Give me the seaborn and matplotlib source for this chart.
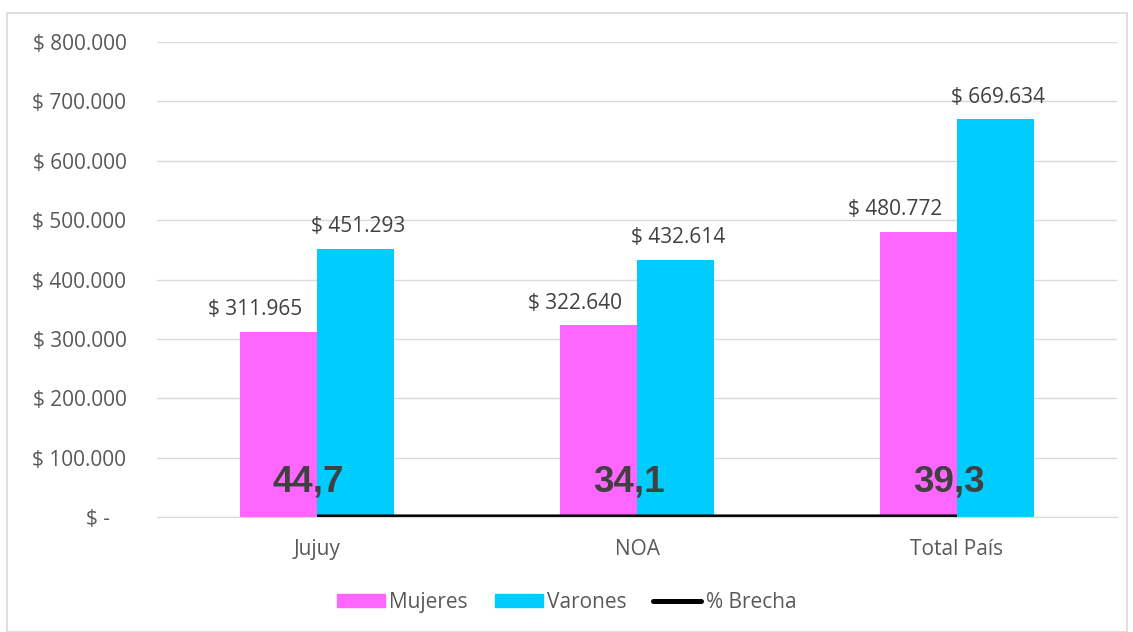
import numpy as np
import pandas as pd
import seaborn as sns
import matplotlib.pyplot as plt
from matplotlib.patches import Rectangle
from matplotlib.ticker import FuncFormatter

# datos
categorias = ["Jujuy", "NOA", "Total País"]
mujeres = [311965, 322640, 480772]
varones = [451293, 432614, 669634]
brecha = [44.7, 34.1, 39.3]
series = ["Mujeres", "Varones"]
colores = ["#FF66FF", "#00CCFF"]

df = pd.DataFrame({
    "region": categorias * 2,
    "serie": [series[0]] * 3 + [series[1]] * 3,
    "ingreso": mujeres + varones,
})

sns.set_style("white")
plt.rcParams["font.family"] = ["Open Sans", "DejaVu Sans"]
fs = 15

fig = plt.figure(figsize=(11.33, 6.32), dpi=100)
ax = fig.add_axes([0.1386, 0.182, 0.8473, 0.7515])

sns.barplot(data=df, x="region", y="ingreso", hue="serie", palette=colores,
            width=0.48, saturation=1, linewidth=0, ax=ax, legend=False)

pos = np.arange(len(categorias))
sns.lineplot(x=pos, y=brecha, color="black", linewidth=3.6, ax=ax,
             solid_capstyle="butt")

ax.set_xlim(-0.5, 2.5)
ax.set_ylim(0, 800000)
ax.set_yticks(np.arange(0, 800001, 100000))

def pesos(v, _=None):
    if v == 0:
        return "$ -   "
    return "$ " + f"{v:,.0f}".replace(",", ".")

ax.yaxis.set_major_formatter(FuncFormatter(pesos))
ax.grid(axis="y", color="#D9D9D9", linewidth=1)
ax.set_axisbelow(True)
for s in ["top", "right", "left"]:
    ax.spines[s].set_visible(False)
ax.spines["bottom"].set_color("#D9D9D9")
ax.tick_params(axis="y", length=0, pad=22, labelsize=fs, labelcolor="#595959")
ax.tick_params(axis="x", length=0, pad=16, labelsize=fs, labelcolor="#595959")
ax.set_xlabel("")
ax.set_ylabel("")

# etiquetas de valores (las de mujeres corridas a la izquierda como en Excel)
for cont, dx in zip(ax.containers, [-17, 2]):
    for rect, v in zip(cont, cont.datavalues):
        ax.annotate(pesos(v), (rect.get_x() + rect.get_width() / 2, v),
                    xytext=(dx, 16), textcoords="offset points",
                    ha="center", va="center", fontsize=fs, color="#404040")

for x, b in zip(pos, brecha):
    ax.annotate(f"{b:.1f}".replace(".", ","), (x, b), xytext=(-6, 25),
                textcoords="offset points", ha="center", va="center",
                fontsize=26.5, fontweight="bold", color="#404040",
                family=["Liberation Sans", "DejaVu Sans"])

handles = [
    Rectangle((0, 0), 1, 1, color=colores[0]),
    Rectangle((0, 0), 1, 1, color=colores[1]),
    plt.Line2D([0], [0], color="black", linewidth=3.6, solid_capstyle="round"),
]
fig.legend(handles, ["Mujeres", "Varones", "% Brecha"], loc="center",
           bbox_to_anchor=(0.5, 0.047), ncol=3, frameon=False, fontsize=fs,
           handlelength=2.3, handleheight=0.65, handletextpad=0.2,
           columnspacing=1.3, labelcolor="#595959")

fig.patches.append(Rectangle((7 / 1133, 0), 1120 / 1133, 619 / 632,
                             transform=fig.transFigure, fill=False,
                             edgecolor="#D9D9D9", linewidth=1.2))

fig.savefig("out.png", dpi=100)
